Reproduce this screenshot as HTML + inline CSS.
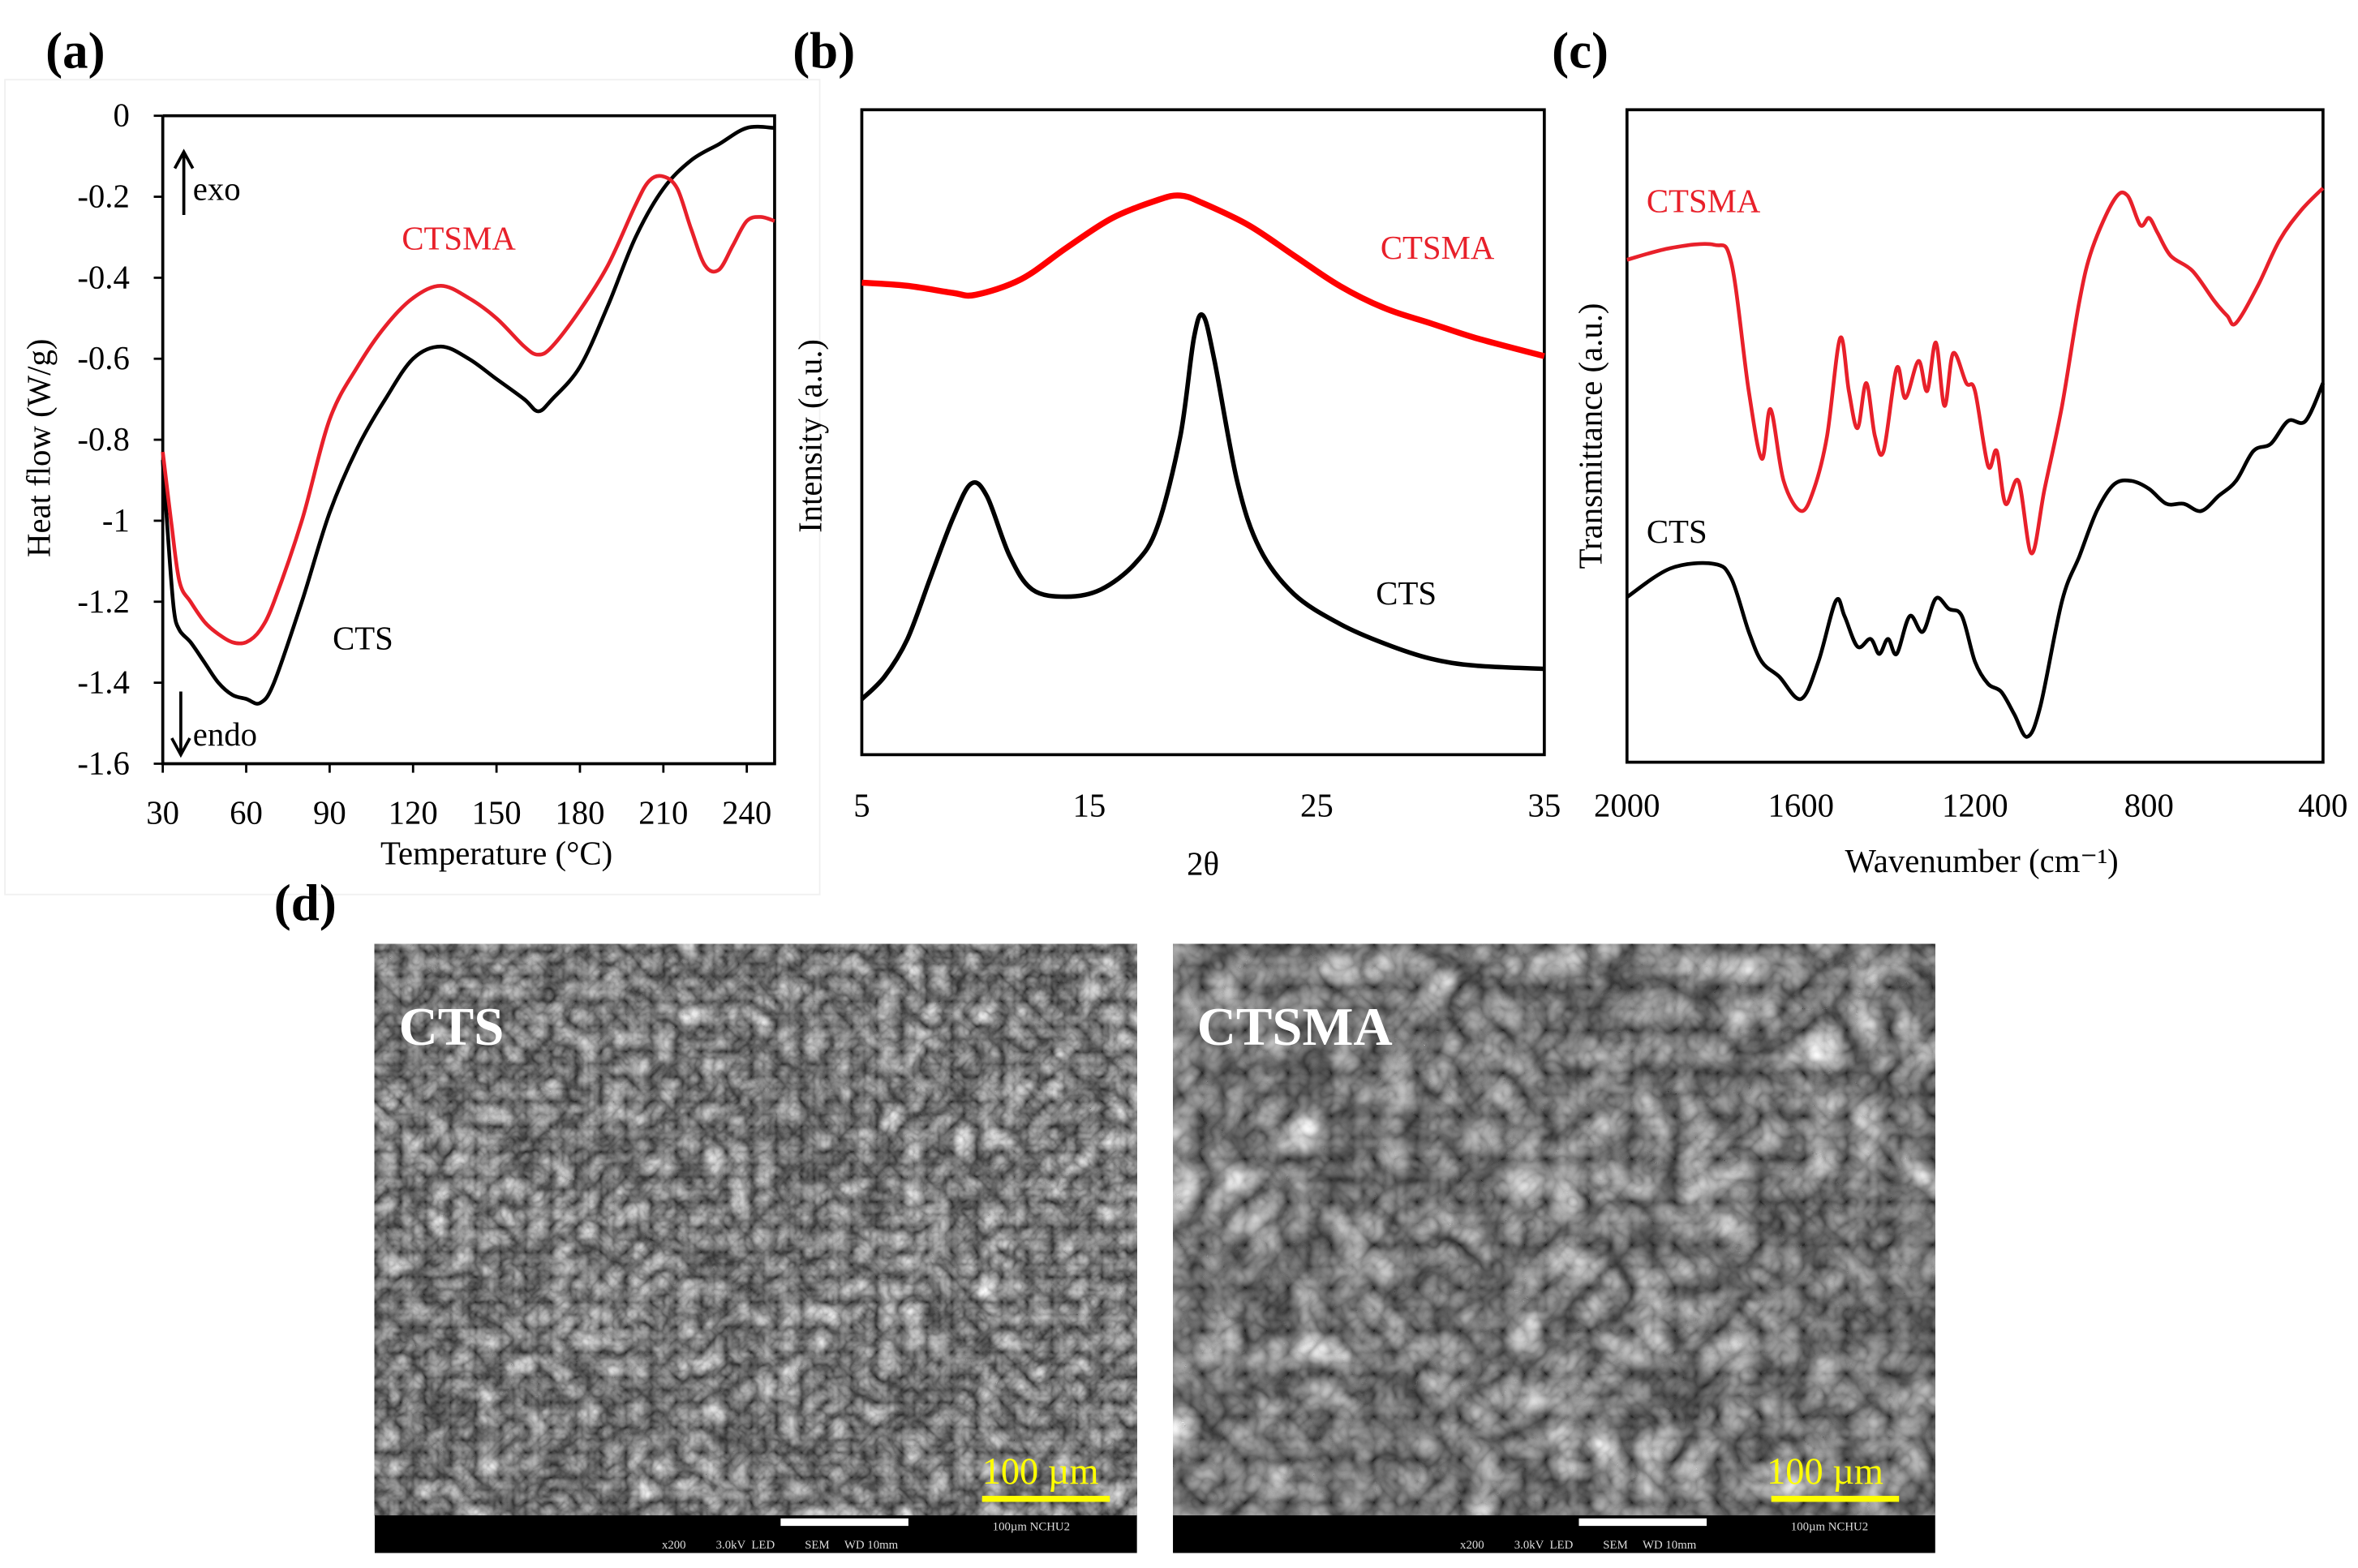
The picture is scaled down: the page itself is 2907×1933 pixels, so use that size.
<!DOCTYPE html>
<html><head><meta charset="utf-8"><style>
html,body{margin:0;padding:0;background:#fff}
svg{display:block}
text{font-family:"Liberation Serif",serif}
</style></head><body>
<svg id="fig" width="2907" height="1933" viewBox="0 0 1568 1043" xmlns="http://www.w3.org/2000/svg">
<defs>
<filter id="sem" x="0" y="0" width="100%" height="100%" color-interpolation-filters="sRGB">
<feTurbulence type="turbulence" baseFrequency="0.06" numOctaves="3" seed="4" result="n"/>
<feColorMatrix type="matrix" values="0.55 0.55 0 0 0.15  0.55 0.55 0 0 0.15  0.55 0.55 0 0 0.15  0 0 0 0 1"/>
</filter>
<filter id="sem2" x="0" y="0" width="100%" height="100%" color-interpolation-filters="sRGB">
<feTurbulence type="turbulence" baseFrequency="0.035" numOctaves="3" seed="9"/>
<feColorMatrix type="matrix" values="0.55 0.55 0 0 0.15  0.55 0.55 0 0 0.15  0.55 0.55 0 0 0.15  0 0 0 0 1"/>
</filter>
</defs>
<rect x="3" y="53" width="542" height="542" fill="none" stroke="#f0f0f0" stroke-width="1"/>
<g id="labels"></g>
<g id="pa"></g><g id="pb"></g><g id="pc"></g>
<g id="pd">
 <rect x="249" y="628" width="507" height="405" fill="#666"/>
 <rect x="249" y="628" width="507" height="380" filter="url(#sem)"/>
 <rect x="249" y="1008" width="507" height="25" fill="#000"/>
 <rect x="519" y="1010" width="85" height="5" fill="#fff"/>
 <text x="660" y="1018" fill="#ddd" font-size="8" font-family="Liberation Mono,monospace">100µm NCHU2</text>
 <text x="440" y="1030" fill="#ddd" font-size="8" font-family="Liberation Mono,monospace" xml:space="preserve">x200          3.0kV  LED          SEM     WD 10mm</text>
 <text x="265" y="695" fill="#fff" font-size="36" font-weight="bold">CTS</text>
 <text x="653" y="987" fill="#ffff00" font-size="25">100 µm</text>
 <rect x="653" y="995" width="85" height="4" fill="#ffff00"/>

 <rect x="780" y="628" width="507" height="405" fill="#666"/>
 <rect x="780" y="628" width="507" height="380" filter="url(#sem2)"/>
 <rect x="780" y="1008" width="507" height="25" fill="#000"/>
 <rect x="1050" y="1010" width="85" height="5" fill="#fff"/>
 <text x="1191" y="1018" fill="#ddd" font-size="8" font-family="Liberation Mono,monospace">100µm NCHU2</text>
 <text x="971" y="1030" fill="#ddd" font-size="8" font-family="Liberation Mono,monospace" xml:space="preserve">x200          3.0kV  LED          SEM     WD 10mm</text>
 <text x="796" y="695" fill="#fff" font-size="36" font-weight="bold">CTSMA</text>
 <text x="1175" y="987" fill="#ffff00" font-size="25">100 µm</text>
 <rect x="1178" y="995" width="85" height="4" fill="#ffff00"/>
</g>
</svg>
<script>
// Panel (a) DSC
const dscTicksX=[30,60,90,120,150,180,210,240];
const dscTicksY=[0,-0.2,-0.4,-0.6,-0.8,-1,-1.2,-1.4,-1.6];
const dscTempCTSMA=[30,33,36,40,45,50,55,60,65,70,80,90,100,110,120,130,140,150,160,165,170,180,190,200,205,210,215,220,225,230,235,240,245,250];
const dscHeatCTSMA=[-0.83,-1.0,-1.15,-1.2,-1.25,-1.28,-1.3,-1.3,-1.27,-1.2,-1.0,-0.75,-0.62,-0.52,-0.45,-0.42,-0.45,-0.5,-0.57,-0.59,-0.57,-0.48,-0.37,-0.22,-0.16,-0.15,-0.18,-0.28,-0.37,-0.38,-0.32,-0.26,-0.25,-0.26];
const dscTempCTS=[30,32,34,36,40,45,50,55,60,65,70,80,90,100,110,120,130,140,150,160,165,170,180,190,200,210,220,230,240,250];
const dscHeatCTS=[-0.85,-1.05,-1.22,-1.27,-1.3,-1.35,-1.4,-1.43,-1.44,-1.45,-1.4,-1.2,-0.98,-0.82,-0.7,-0.6,-0.57,-0.6,-0.65,-0.7,-0.73,-0.7,-0.62,-0.47,-0.3,-0.18,-0.11,-0.07,-0.03,-0.03];
// Panel (b) XRD
const xrdTicks=[5,15,25,35];
const xrdAngleCTSMA=[5,7,9,10,12,14,16,18,19,20,22,24,26,28,30,32,35];
const xrdIntCTSMA=[73.2,72.7,71.6,71.3,73.7,78.6,83.2,86.0,86.7,85.5,82.1,77.4,72.7,69.2,66.9,64.6,61.8];
const xrdAngleCTS=[5,6,7,8,9,9.8,10.5,11.5,12.5,14,15.5,17,18,19,19.6,20,20.5,21.5,22.5,24,26,28,30,32,35];
const xrdIntCTS=[8.6,12.1,17.9,27.3,36.6,42.0,40.1,30.8,25.6,24.5,25.6,29.6,35.4,49.4,64.6,68.1,61.1,42.4,31.9,24.9,20.3,17.2,14.9,13.8,13.3];
// Panel (c) FTIR
const irTicks=[2000,1600,1200,800,400];
const irWnCTSMA=[2000,1900,1800,1760,1720,1690,1670,1640,1600,1570,1540,1510,1490,1470,1450,1430,1410,1380,1360,1330,1310,1290,1270,1250,1220,1200,1170,1150,1130,1100,1070,1040,1000,960,930,880,850,820,800,780,750,700,650,620,600,550,500,450,400];
const irTCTSMA=[77.0,78.8,79.3,76.5,56.9,46.5,54.1,43.1,38.5,41.9,50.0,65.0,56.9,51.2,58.1,50.0,47.7,60.4,55.8,61.5,56.9,64.3,54.6,62.7,58.1,56.9,45.4,47.7,39.6,43.1,32.0,41.9,54.6,70.7,78.8,86.2,86.9,82.3,83.4,81.1,77.6,75.3,70.7,68.4,67.3,73.0,80.0,84.6,88.0];
const irWnCTS=[2000,1900,1800,1760,1720,1690,1650,1600,1560,1520,1500,1470,1440,1420,1400,1380,1350,1320,1290,1260,1230,1200,1170,1140,1110,1080,1050,1000,960,920,880,840,800,760,720,680,640,600,560,520,480,440,400];
const irTCTS=[25.3,29.7,30.4,28.1,20.0,15.4,13.1,9.7,15.4,24.7,22.4,17.7,18.9,16.6,18.9,16.6,22.4,20.0,25.1,23.5,22.4,15.4,12.0,10.8,7.4,3.9,8.5,24.7,31.6,38.5,42.6,43.1,41.9,39.6,39.6,38.5,40.8,43.1,47.7,48.8,52.3,52.3,58.1];

const NS="http://www.w3.org/2000/svg";
function mk(parent,tag,attrs,txt){const e=document.createElementNS(NS,tag);for(const k in attrs)e.setAttribute(k,attrs[k]);if(txt!==undefined)e.textContent=txt;parent.appendChild(e);return e;}
function lin(d0,d1,r0,r1){return v=>r0+(v-d0)/(d1-d0)*(r1-r0);}
function path(xs,ys,sx,sy){
  const p=xs.map((x,i)=>[sx(x),sy(ys[i])]);
  let d="M"+p[0][0].toFixed(1)+","+p[0][1].toFixed(1);
  for(let i=0;i<p.length-1;i++){
    const p0=p[i-1]||p[i],p1=p[i],p2=p[i+1],p3=p[i+2]||p2;
    const c1x=p1[0]+(p2[0]-p0[0])/6,c1y=p1[1]+(p2[1]-p0[1])/6,c2x=p2[0]-(p3[0]-p1[0])/6,c2y=p2[1]-(p3[1]-p1[1])/6;
    d+=" C"+c1x.toFixed(1)+","+c1y.toFixed(1)+" "+c2x.toFixed(1)+","+c2y.toFixed(1)+" "+p2[0].toFixed(1)+","+p2[1].toFixed(1);
  }
  return d;
}
const L=document.getElementById('labels');
let t;
t=mk(L,'text',{x:30,y:45,'font-size':34,'font-weight':'bold'},'(a)');


t=mk(L,'text',{x:527,y:45,'font-size':34,'font-weight':'bold'},'(b)');


t=mk(L,'text',{x:1032,y:45,'font-size':34,'font-weight':'bold'},'(c)');


t=mk(L,'text',{x:182,y:612,'font-size':34,'font-weight':'bold'},'(d)');



// ---- Panel a
(function(){
const g=document.getElementById('pa');


const x0=108,x1=515,y0=508,y1=77;
const sx=lin(30,250,x0,x1), sy=lin(-1.6,0,y0,y1);
let e;
e=mk(g,'path',{d:`M${x0},${y1}V${y0}H${x1}V${y1}H${x0}`,fill:'none',stroke:'#000','stroke-width':2});


dscTicksY.forEach(v=>{
  e=mk(g,'line',{x1:x0-6,x2:x0,y1:sy(v),y2:sy(v),stroke:'#000','stroke-width':1.5});
  
  
  e=mk(g,'text',{x:x0-22,y:sy(v)+7,'font-size':22,'text-anchor':'end'},String(v));
  
  
});
dscTicksX.forEach(v=>{
  e=mk(g,'line',{x1:sx(v),x2:sx(v),y1:y0,y2:y0+6,stroke:'#000','stroke-width':1.5});
  
  
  e=mk(g,'text',{x:sx(v),y:y0+40,'font-size':22,'text-anchor':'middle'},String(v));
  
  
});
e=mk(g,'text',{x:330,y:575,'font-size':22,'text-anchor':'middle'},'Temperature (°C)');


e=mk(g,'text',{x:0,y:0,'font-size':22,'text-anchor':'middle',transform:'translate(33,298) rotate(-90)'},'Heat flow (W/g)');


e=mk(g,'path',{d:path(dscTempCTS,dscHeatCTS,sx,sy),fill:'none',stroke:'#000','stroke-width':2.5});


e=mk(g,'path',{d:path(dscTempCTSMA,dscHeatCTSMA,sx,sy),fill:'none',stroke:'#e8202a','stroke-width':2.5});


e=mk(g,'text',{x:267,y:166,'font-size':22,fill:'#e8202a'},'CTSMA');


e=mk(g,'text',{x:221,y:432,'font-size':22},'CTS');


e=mk(g,'path',{d:'M122,143V102M116,112L122,101L128,112',fill:'none',stroke:'#000','stroke-width':2});


e=mk(g,'text',{x:128,y:133,'font-size':22},'exo');


e=mk(g,'path',{d:'M120,460V501M114,491L120,502L126,491',fill:'none',stroke:'#000','stroke-width':2});


e=mk(g,'text',{x:128,y:496,'font-size':22},'endo');


})();

// ---- Panel b
(function(){
const g=document.getElementById('pb');


const x0=573,x1=1027,y0=502,y1=73;
const sx=lin(5,35,x0,x1), sy=lin(0,100,y0,y1);
let e;
e=mk(g,'rect',{x:x0,y:y1,width:x1-x0,height:y0-y1,fill:'none',stroke:'#000','stroke-width':2});


xrdTicks.forEach(v=>{
  e=mk(g,'text',{x:sx(v),y:543,'font-size':22,'text-anchor':'middle'},String(v));
  
  
});
e=mk(g,'text',{x:800,y:582,'font-size':22,'text-anchor':'middle'},'2θ');


e=mk(g,'text',{x:0,y:0,'font-size':22,'text-anchor':'middle',transform:'translate(546,290) rotate(-90)'},'Intensity (a.u.)');


e=mk(g,'path',{d:path(xrdAngleCTSMA,xrdIntCTSMA,sx,sy),fill:'none',stroke:'#ff0000','stroke-width':4});


e=mk(g,'path',{d:path(xrdAngleCTS,xrdIntCTS,sx,sy),fill:'none',stroke:'#000','stroke-width':3});


e=mk(g,'text',{x:918,y:172,'font-size':22,fill:'#e8202a'},'CTSMA');


e=mk(g,'text',{x:915,y:402,'font-size':22},'CTS');


})();

// ---- Panel c
(function(){
const g=document.getElementById('pc');


const x0=1082,x1=1545,y0=507,y1=73;
const sx=lin(2000,400,x0,x1), sy=lin(0,100,y0,y1);
let e;
e=mk(g,'rect',{x:x0,y:y1,width:x1-x0,height:y0-y1,fill:'none',stroke:'#000','stroke-width':2});


irTicks.forEach(v=>{
  e=mk(g,'text',{x:sx(v),y:543,'font-size':22,'text-anchor':'middle'},String(v));
  
  
});
e=mk(g,'text',{x:1318,y:580,'font-size':22,'text-anchor':'middle'},'Wavenumber (cm⁻¹)');


e=mk(g,'text',{x:0,y:0,'font-size':22,'text-anchor':'middle',transform:'translate(1065,290) rotate(-90)'},'Transmittance (a.u.)');


e=mk(g,'path',{d:path(irWnCTSMA,irTCTSMA,sx,sy),fill:'none',stroke:'#e8202a','stroke-width':2.5});


e=mk(g,'path',{d:path(irWnCTS,irTCTS,sx,sy),fill:'none',stroke:'#000','stroke-width':2.5});


e=mk(g,'text',{x:1095,y:141,'font-size':22,fill:'#e8202a'},'CTSMA');


e=mk(g,'text',{x:1095,y:361,'font-size':22},'CTS');


})();
</script>
</body></html>
